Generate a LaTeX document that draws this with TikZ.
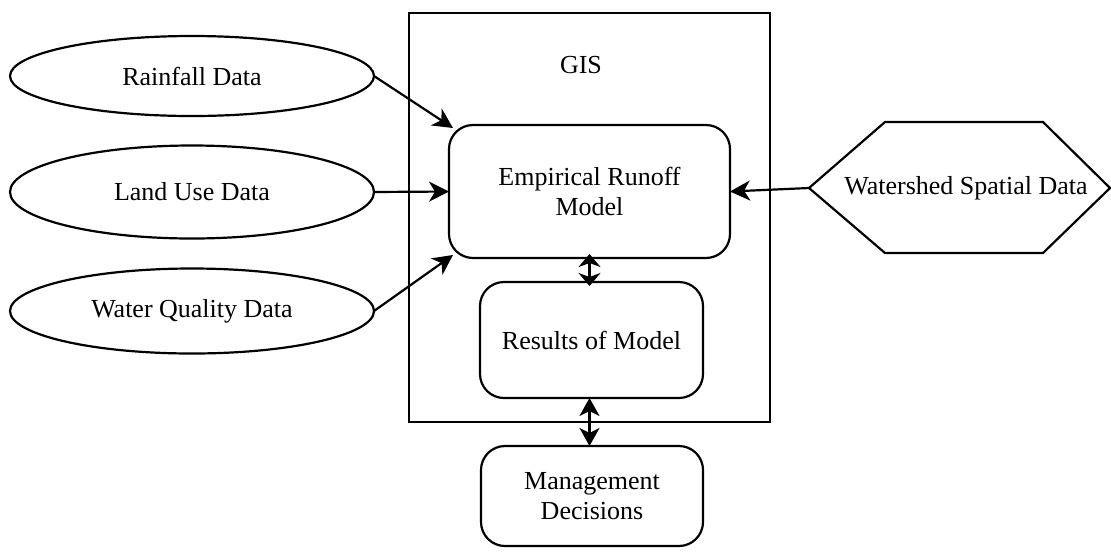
\documentclass[tikz,border=0pt]{standalone}
\usepackage{fontspec}
\setmainfont{Liberation Serif}
\usetikzlibrary{shapes.geometric,arrows.meta}
\begin{document}
\begin{tikzpicture}[x=0.5pt,y=-0.5pt,
  font=\fontsize{13pt}{15pt}\selectfont,
  every node/.style={inner sep=0pt,outer sep=0pt},
  line width=1.1pt,
  datanode/.style={draw,ellipse,minimum width=182pt,line width=1.1pt},
  boxnode/.style={draw,rectangle,rounded corners=12pt,align=center,line width=1.1pt},
  arr/.style={-{Stealth[length=10pt,width=10pt,inset=3pt]}},
  dblshort/.style={{Stealth[length=6.5pt,width=11pt,inset=2pt]}-{Stealth[length=6.5pt,width=11pt,inset=2pt]}},
  dbl/.style={{Stealth[length=9pt,width=10pt,inset=2.5pt]}-{Stealth[length=9pt,width=10pt,inset=2.5pt]}}]
\useasboundingbox (0,0) rectangle (1111,558);
% GIS frame
\node[draw,rectangle,minimum width=180.5pt,minimum height=204.5pt,line width=1.1pt] (gis) at (589.5,217.5) {};
\node (gislabel) at (581,65) {GIS};
% data ellipses
\node[datanode,minimum height=40pt] (rain) at (192,76) {Rainfall Data};
\node[datanode,minimum height=46.5pt] (lu) at (192,192) {Land Use Data};
\node[datanode,minimum height=42.5pt] (wq) at (192,311) {Water Quality Data};
% boxes
\node[boxnode,minimum width=140.5pt,minimum height=66.5pt] (erm) at (589.5,191.5) {Empirical Runoff\\Model};
\node[boxnode,minimum width=111.5pt,minimum height=58pt] (res) at (591.5,340) {Results of Model};
\node[boxnode,minimum width=111pt,minimum height=50pt] (md) at (592,496) {Management\\Decisions};
% hexagon
\coordinate (wsl) at (809,188);
\coordinate (wsr) at (1110,188);
\draw (wsl) -- (885,122) -- (1043,122) -- (wsr) -- (1043,253) -- (885,253) -- cycle;
\node (ws) at (966,188) {Watershed Spatial Data};
% connectors
\draw[arr] (rain.east) -- ([xshift=2pt,yshift=-1.5pt]erm.north west);
\draw[arr] (lu.east) -- (erm.west);
\draw[arr] (wq.east) -- ([xshift=2pt,yshift=1.5pt]erm.south west);
\draw[arr] (wsl) -- (erm.east);
\draw[dblshort] ([yshift=2pt]erm.south) -- ([yshift=-2pt]erm.south |- res.north);
\draw[dbl] (res.south -| erm.south) -- (md.north -| erm.south);
\end{tikzpicture}
\end{document}
